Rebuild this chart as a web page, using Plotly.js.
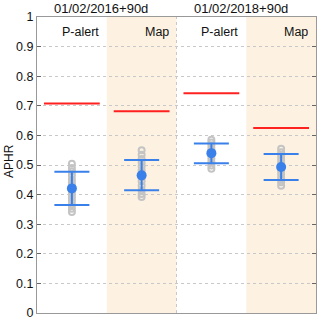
<!DOCTYPE html>
<html>
<head>
<meta charset="utf-8">
<script src="https://cdn.plot.ly/plotly-3.0.1.min.js"></script>
<style>body{margin:0;background:#fff}#chart{width:320px;height:321px}</style>
</head>
<body>
<div id="chart"></div>
<script>
// groups along the x axis (centre of each box is i + 0.5)
let groups = ['P-alert', 'Map', 'P-alert', 'Map'];
let periods = ['01/02/2016+90d', '01/02/2018+90d'];

// gray sample points for each group
let samples = [
  [0.341, 0.352, 0.365, 0.378, 0.39, 0.402, 0.412, 0.421, 0.43, 0.44, 0.452, 0.465, 0.478, 0.49, 0.504],
  [0.392, 0.402, 0.415, 0.43, 0.445, 0.458, 0.47, 0.482, 0.495, 0.508, 0.52, 0.535, 0.55],
  [0.487, 0.498, 0.51, 0.522, 0.533, 0.544, 0.555, 0.566, 0.576, 0.585],
  [0.43, 0.442, 0.455, 0.468, 0.48, 0.492, 0.505, 0.518, 0.53, 0.543, 0.555]
];
let means = [0.421, 0.465, 0.54, 0.493];
let upper = [0.477, 0.517, 0.573, 0.537];
let lower = [0.365, 0.415, 0.506, 0.449];
let redLevel = [0.708, 0.682, 0.742, 0.625];

let centers = groups.map((g, i) => i + 0.5);

let data = [];

// gray open circles
samples.forEach((s, i) => {
  data.push({
    x: s.map(() => centers[i]),
    y: s,
    type: 'scatter',
    mode: 'markers',
    marker: {symbol: 'circle-open', size: 6, color: '#c4c4c4', line: {width: 2, color: '#c4c4c4'}},
    hoverinfo: 'y'
  });
});

// red reference lines
redLevel.forEach((v, i) => {
  data.push({
    x: [centers[i] - 0.4, centers[i] + 0.4],
    y: [v, v],
    type: 'scatter',
    mode: 'lines',
    line: {color: '#ff2020', width: 2}
  });
});

// mean with error bars
data.push({
  x: centers,
  y: means,
  type: 'scatter',
  mode: 'markers',
  marker: {size: 10, color: '#3a80ea'},
  error_y: {
    type: 'data',
    symmetric: false,
    array: upper.map((u, i) => u - means[i]),
    arrayminus: means.map((m, i) => m - lower[i]),
    color: '#3a80ea',
    thickness: 2,
    width: 17.5
  }
});

let annotations = [];
groups.forEach((g, i) => {
  annotations.push({
    x: i + 0.9, y: 0.95, xref: 'x', yref: 'y',
    text: g, showarrow: false, xanchor: 'right', yanchor: 'middle', borderpad: 0,
    font: {size: 12.5, color: '#111'}
  });
});
periods.forEach((p, i) => {
  annotations.push({
    x: i * 2 + 0.92, y: 1, xref: 'x', yref: 'paper',
    text: p, showarrow: false, xanchor: 'center', yanchor: 'bottom', yshift: -1,
    font: {size: 13, color: '#111'}
  });
});
annotations.push({
  x: -0.1, y: 0.514, xref: 'paper', yref: 'paper',
  text: 'APHR', showarrow: false, textangle: -90, xanchor: 'center', yanchor: 'middle',
  font: {size: 12, color: '#111'}
});

let layout = {
  width: 320,
  height: 321,
  margin: {l: 37, r: 4, t: 17, b: 8},
  showlegend: false,
  paper_bgcolor: '#fff',
  plot_bgcolor: '#fff',
  font: {family: "'Liberation Sans', Arial, sans-serif", size: 12.5, color: '#111'},
  xaxis: {
    range: [0, 4],
    showticklabels: false,
    ticks: '',
    showgrid: false,
    zeroline: false,
    showline: true,
    linecolor: '#999',
    linewidth: 1,
    mirror: true
  },
  yaxis: {
    range: [0, 1],
    tickvals: [0, 0.1, 0.2, 0.3, 0.4, 0.5, 0.6, 0.7, 0.8, 0.9, 1],
    ticktext: ['0', '0.1', '0.2', '0.3', '0.4', '0.5', '0.6', '0.7', '0.8', '0.9', '1'],
    ticks: 'inside',
    ticklen: 4,
    tickcolor: '#666',
    showgrid: true,
    gridcolor: '#c8c8c8',
    griddash: 'dot',
    zeroline: false,
    showline: true,
    linecolor: '#999',
    mirror: 'ticks',
    tickfont: {size: 12.5, color: '#111'}
  },
  shapes: [
    {type: 'rect', xref: 'x', yref: 'paper', x0: 1, x1: 2, y0: 0, y1: 1, fillcolor: '#fdf2e2', line: {width: 0}, layer: 'below'},
    {type: 'rect', xref: 'x', yref: 'paper', x0: 3, x1: 4, y0: 0, y1: 1, fillcolor: '#fdf2e2', line: {width: 0}, layer: 'below'},
    {type: 'line', xref: 'x', yref: 'paper', x0: 2, x1: 2, y0: 0, y1: 1, line: {color: '#c8c8c8', width: 1, dash: 'dot'}, layer: 'below'}
  ],
  annotations: annotations
};

Plotly.newPlot('chart', data, layout, {displayModeBar: false, staticPlot: true});
</script>
</body>
</html>
